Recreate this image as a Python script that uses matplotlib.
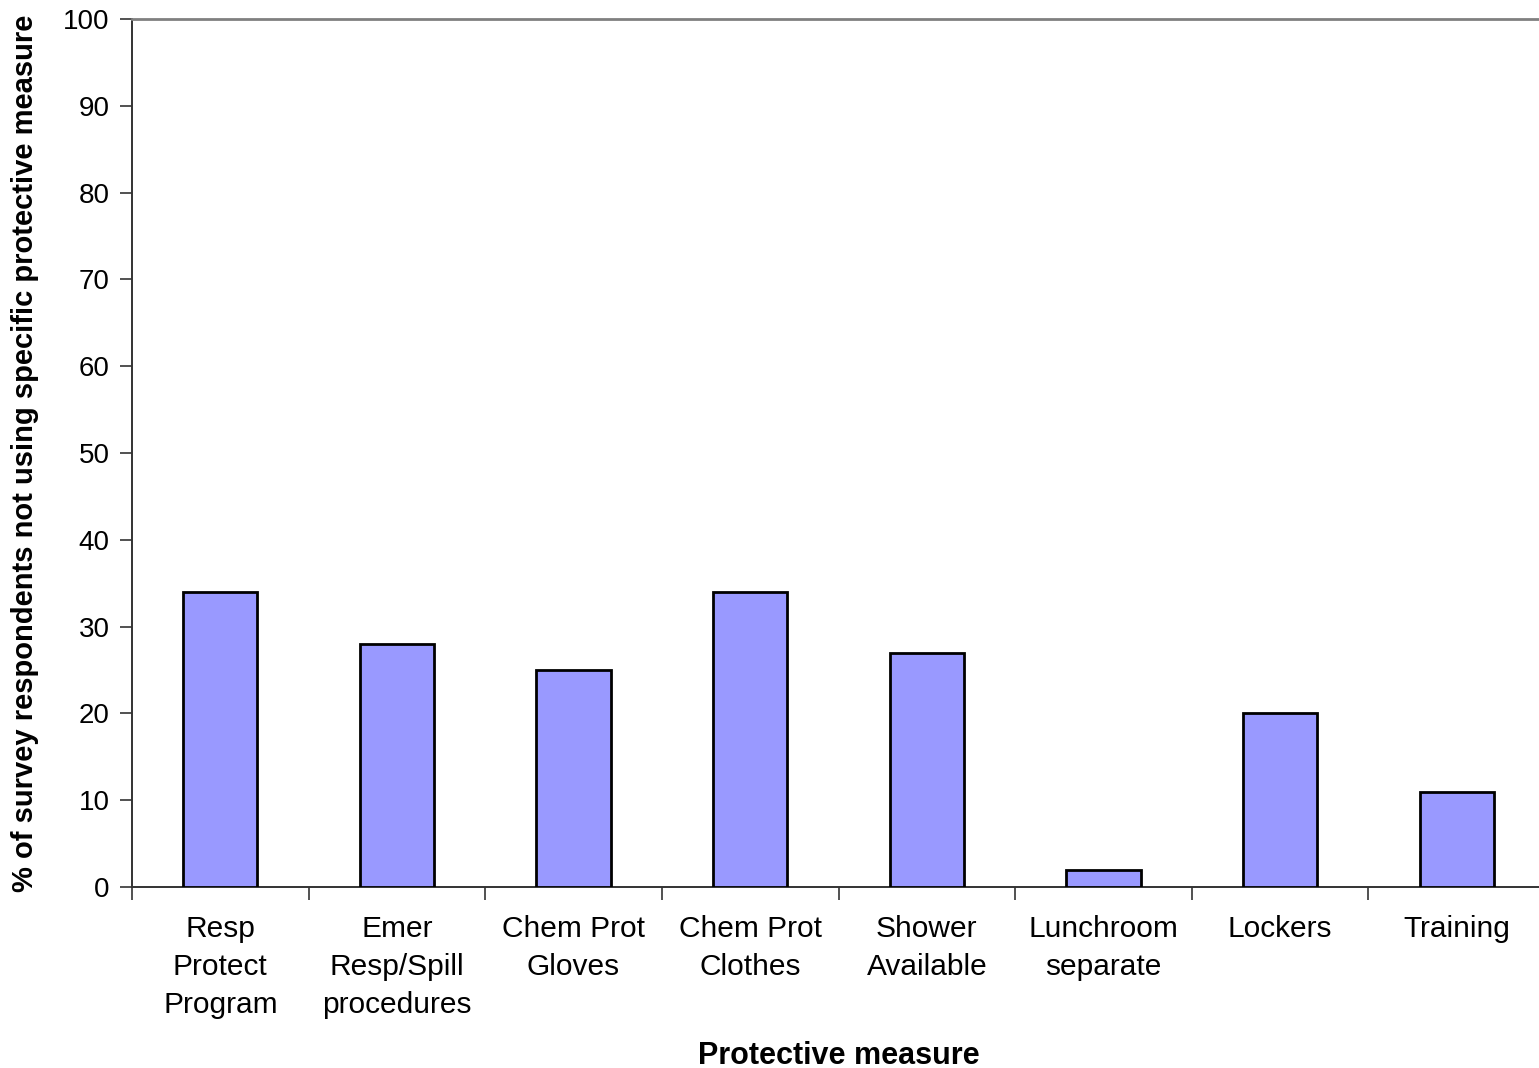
import matplotlib
matplotlib.use("Agg")
import matplotlib.pyplot as plt
import numpy as np

plt.rcParams['font.family'] = ['Liberation Sans', 'DejaVu Sans']

categories = ["Resp\nProtect\nProgram", "Emer\nResp/Spill\nprocedures", "Chem Prot\nGloves",
              "Chem Prot\nClothes", "Shower\nAvailable", "Lunchroom\nseparate", "Lockers", "Training"]
values = [34, 28, 25, 34, 27, 2, 20, 11]
y_ticks = [0, 10, 20, 30, 40, 50, 60, 70, 80, 90, 100]

fig = plt.figure(figsize=(15.39, 10.68), dpi=100)
ax = fig.add_axes([132/1539, 1 - 887/1068, 1413/1539, 868/1068])

x = np.arange(len(categories))
ax.bar(x, values, width=0.42, color="#9999FF", edgecolor="black", linewidth=2, zorder=3)

ax.set_xlim(-0.5, len(categories) - 0.5)
ax.set_ylim(0, 100)
ax.set_yticks(y_ticks)
ax.set_yticklabels([str(v) for v in y_ticks], fontsize=20)
ax.tick_params(axis='y', direction='out', length=9, width=1.2, colors='#333333', labelcolor='black', pad=7)

# category boundary ticks on the x axis, labels centred on the bars
ax.set_xticks(np.arange(len(categories) + 1) - 0.5)
ax.set_xticklabels([])
ax.set_xticks(x, minor=True)
ax.set_xticklabels(categories, minor=True, fontsize=21.5, linespacing=1.46)
ax.tick_params(axis='x', which='major', direction='out', length=9, width=1.2, colors='#333333')
ax.tick_params(axis='x', which='minor', length=0, pad=20, labelcolor='black')

for side in ['left', 'bottom']:
    ax.spines[side].set_color('#333333')
    ax.spines[side].set_linewidth(1.4)
ax.spines['top'].set_color('#808080')
ax.spines['top'].set_linewidth(2)
ax.spines['right'].set_visible(False)

ax.set_ylabel("% of survey respondents not using specific protective measure",
              fontsize=21, fontweight='bold', labelpad=14)
ax.yaxis.set_label_coords(-(132 - 25) / 1413, 0.5)
ax.set_xlabel("Protective measure", fontsize=22, fontweight='bold')
ax.xaxis.set_label_coords(0.5, -(1056 - 887) / 868, transform=ax.transAxes)
ax.xaxis.label.set_va('center')
ax.yaxis.label.set_va('center')

fig.savefig("out.png", dpi=100)
